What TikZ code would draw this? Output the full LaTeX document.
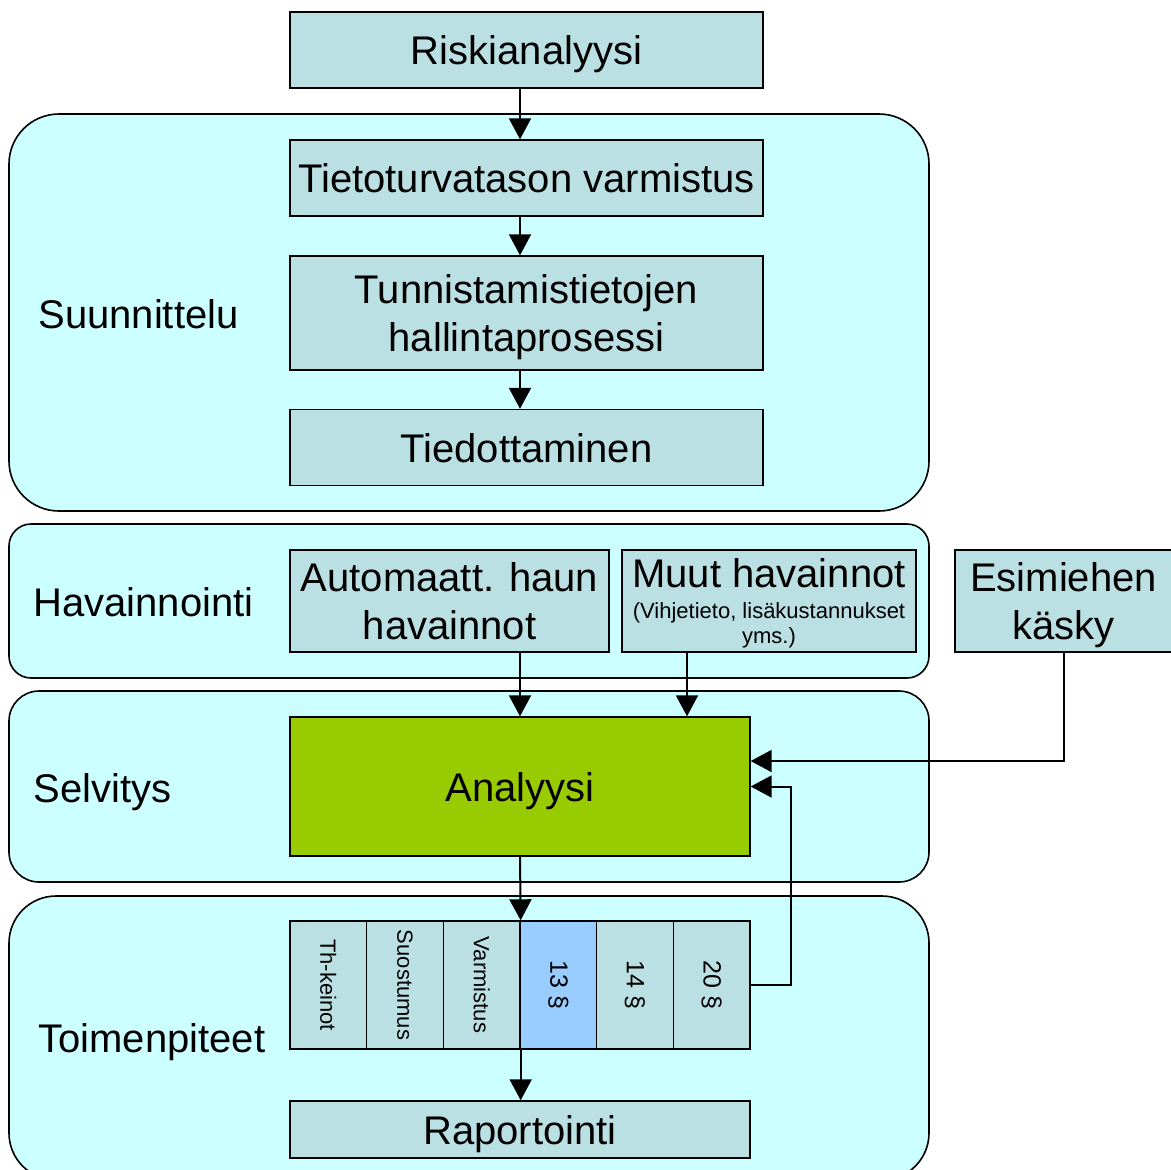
\documentclass[tikz,border=0pt]{standalone}
\usepackage{fontspec}
\setmainfont{Liberation Sans}
\usetikzlibrary{positioning,arrows.meta}
\definecolor{boxfill}{RGB}{187,224,227}
\definecolor{lanefill}{RGB}{204,255,255}
\definecolor{analfill}{RGB}{153,204,0}
\definecolor{pykfill}{RGB}{153,204,255}
\tikzset{
  boxbase/.style={
    draw, line width=0.7pt, fill=boxfill, inner sep=2pt,
    font=\fontsize{20}{24}\selectfont, align=center
  },
  stepbox/.style={
    boxbase, text depth=0pt,
    minimum width=236.5pt, minimum height=38pt
  },
  lane/.style={
    draw, line width=0.8pt, fill=lanefill, minimum width=460pt
  },
  lanelabel/.style={
    anchor=base west, inner sep=0pt, font=\fontsize{20}{24}\selectfont
  },
  pykala/.style={
    boxbase, minimum width=38.33pt, minimum height=64pt,
    font=\fontsize{11}{13}\selectfont
  },
  arr/.style={-{Triangle[length=10.5pt,width=11pt]}, line width=1pt}
}
\newcommand{\pienet}{\fontsize{11}{13}\selectfont}

\begin{document}
\begin{tikzpicture}[x=0.5pt, y=-0.5pt]
          \useasboundingbox (0,0) rectangle (1171,1169);
          \node[lane, rounded corners=25pt, minimum height=198.5pt]
          (LSuun) at (469,312.5) {}; \node[lane, rounded corners=11pt,
          minimum height=77pt] (LHav) at (469,601) {}; \node[lane,
          rounded corners=15pt, minimum height=95.5pt] (LSelv) at
          (469,786.5) {}; \node[lane, rounded corners=23.5pt, minimum
          height=142pt] (LToim) at (469,1038) {};
          \node[lanelabel] (Suun) at (38,328) {Suunnittelu};
          \node[lanelabel] (Hav) at (33,616) {Havainnointi};
          \node[lanelabel] (Selv) at (33,802) {Selvitys};
          \node[lanelabel] (Toim) at (38,1052) {Toimenpiteet};
          \node[stepbox] (Risk) at (526.5,50) {Riskianalyysi};
          \node[stepbox, on grid, below=64pt of Risk] (Tieto)
          {Tietoturvatason varmistus}; \node[stepbox, on grid,
          below=67.5pt of Tieto, minimum height=57pt] (Tunn)
          {Tunnistamistietojen\\hallintaprosessi}; \node[stepbox, on
          grid, below=67.25pt of Tunn] (Tied) {Tiedottaminen};
          \node[stepbox, minimum width=159.5pt, minimum height=51pt]
          (Auto) at (449.5,601) {Automaatt. haun\\havainnot};
          \node[stepbox, on grid, right=159.75pt of Auto, minimum
          width=147pt, minimum height=51pt, inner sep=0pt] (Muut)
          {Muut havainnot\\[-8.5pt]\pienet (Vihjetieto,
          lisäkustannukset\\[-11.5pt]\pienet yms.)}; \node[stepbox,
          minimum width=108.5pt, minimum height=51pt] (Esim) at
          (1063.5,601) {Esimiehen\\käsky};
          \node[stepbox, fill=analfill, minimum width=230pt, minimum
          height=69.5pt] (Analyysi) at (520,786.5) {Analyysi};
          \node[stepbox, on grid, below=171.5pt of Analyysi, minimum
          width=230pt, minimum height=28.5pt] (Rap) {Raportointi};
          \node[pykala] (Th) at (328.33,985)
          {\rotatebox{-90}{Th-keinot}}; \node[pykala, on grid,
          right=38.33pt of Th] (Suost) {\rotatebox{-90}{Suostumus}};
          \node[pykala, on grid, right=38.33pt of Suost] (Varm)
          {\rotatebox{-90}{Varmistus}}; \node[pykala, on grid,
          right=38.33pt of Varm, fill=pykfill,
          font=\fontsize{12.5}{15}\selectfont] (P13)
          {\rotatebox{-90}{13 §}}; \node[pykala, on grid,
          right=38.33pt of P13, font=\fontsize{12.5}{15}\selectfont]
          (P14) {\rotatebox{-90}{14 §}}; \node[pykala, on grid,
          right=38.33pt of P14, font=\fontsize{12.5}{15}\selectfont]
          (P20) {\rotatebox{-90}{20 §}};
          \draw[arr] (Risk.south -| Analyysi.north) to (Tieto.north
          -| Analyysi.north); \draw[arr] (Tieto.south -|
          Analyysi.north) to (Tunn.north -| Analyysi.north);
          \draw[arr] (Tunn.south -| Analyysi.north) to (Tied.north -|
          Analyysi.north); \draw[arr] (Auto.south -| Analyysi.north)
          to (Analyysi.north); \draw[arr] ([xshift=-41pt]Muut.south)
          to ([xshift=-41pt]Muut.south |- Analyysi.north); \draw[arr]
          (Esim.south) |- ([yshift=12.75pt]Analyysi.east);
          \draw[arr] (Analyysi.south) to (Varm.north east);
          \draw[arr] (Varm.south east) to (Rap.north -| Varm.south
          east); \draw[arr] (P20.east) to ++(20pt,0) |-
          (Analyysi.east);
        \end{tikzpicture}
\end{document}
